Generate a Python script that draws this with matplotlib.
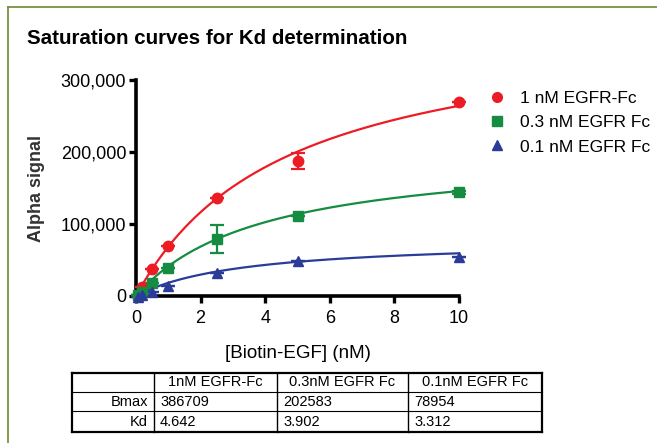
import numpy as np
import matplotlib
matplotlib.use('agg')
import matplotlib.pyplot as plt
from matplotlib.lines import Line2D
from matplotlib.ticker import FuncFormatter

plt.rcParams['font.family'] = ['Liberation Sans', 'DejaVu Sans']

# data
conc = [0.05, 0.2, 0.5, 1.0, 2.5, 5.0, 10.0]
sig_1nm   = [2000, 12000, 37000, 70000, 136000, 188000, 270000]
err_1nm   = [0, 0, 0, 0, 0, 11000, 0]
sig_03nm  = [1000, 6000, 18500, 38500, 79000, 111500, 144000]
err_03nm  = [0, 0, 0, 0, 19000, 0, 2500]
sig_01nm  = [-1000, 1500, 5000, 14000, 31500, 48500, 54000]
err_01nm  = [0, 0, 0, 0, 0, 0, 0]

labels = ['1 nM EGFR-Fc', '0.3 nM EGFR Fc', '0.1 nM EGFR Fc']

# fit parameters (table)
tab_cols = ['1nM EGFR-Fc', '0.3nM EGFR Fc', '0.1nM EGFR Fc']
tab_rows = ['Bmax', 'Kd']
bmax = [386709, 202583, 78954]
kd   = [4.642, 3.902, 3.312]

colors  = ['#ED1C24', '#158C42', '#2B3C98']
markers = ['o', 's', '^']

W, H = 657, 443
fig = plt.figure(figsize=(W/100, H/100), dpi=100, facecolor='w')
ax = fig.add_axes([136/W, 1-296/H, 323/W, 216/H])

xs = np.linspace(0, 10, 300)
series = [(sig_1nm, err_1nm), (sig_03nm, err_03nm), (sig_01nm, err_01nm)]
handles = []
for i, (y, e) in enumerate(series):
	ax.plot(xs, bmax[i]*xs/(kd[i]+xs), color=colors[i], lw=1.6, clip_on=False, zorder=2)
	ax.errorbar(conc, y, yerr=e, fmt=markers[i], color=colors[i], ms=7.5, capsize=5,
		elinewidth=1.6, capthick=1.6, clip_on=False, zorder=3)
	handles.append(Line2D([], [], ls='none', marker=markers[i], color=colors[i], ms=7))

ax.set_xlim(0, 10)
ax.set_ylim(0, 300000)
ax.set_xticks([0, 2, 4, 6, 8, 10])
ax.set_yticks([0, 100000, 200000, 300000])
ax.yaxis.set_major_formatter(FuncFormatter(lambda v, p: '{:,.0f}'.format(v)))
for s in ['top', 'right']:
	ax.spines[s].set_visible(False)
for s in ['left', 'bottom']:
	ax.spines[s].set_linewidth(2.6)
ax.tick_params(width=2.4, length=5, labelsize=13, pad=2, colors='k')
ax.tick_params(axis='x', pad=5)
ax.set_xlabel('[Biotin-EGF] (nM)', fontsize=13.5, labelpad=13)
ax.set_ylabel('Alpha signal', fontsize=13, fontweight='bold', color='#333333', labelpad=11)

fig.legend(handles, labels, loc='upper left', bbox_to_anchor=(490/W, 1-91/H), frameon=False,
	fontsize=12.5, handletextpad=0.9, labelspacing=0.52, handlelength=0.8,
	borderpad=0, borderaxespad=0)

fig.text(27/W, 1-38/H, 'Saturation curves for Kd determination', fontsize=14.8,
	fontweight='bold', va='center', ha='left')

# outer frame (left and top edges)
fcol = '#76923C'
fig.add_artist(Line2D([8/W, 8/W], [0, 1-7/H], transform=fig.transFigure, color=fcol, lw=1.3))
fig.add_artist(Line2D([8/W, 1], [1-7/H, 1-7/H], transform=fig.transFigure, color=fcol, lw=1.3))

# parameter table
cx = [72, 154, 277, 408, 542]
ry = [373, 392, 411, 432]
def hline(y, x0, x1, lw):
	fig.add_artist(Line2D([x0/W, x1/W], [1-y/H, 1-y/H], transform=fig.transFigure, color='k', lw=lw))
def vline(x, y0, y1, lw):
	fig.add_artist(Line2D([x/W, x/W], [1-y0/H, 1-y1/H], transform=fig.transFigure, color='k', lw=lw))
hline(ry[0], cx[0], cx[-1], 1.6)
hline(ry[-1], cx[0], cx[-1], 1.6)
hline(ry[1], cx[0], cx[-1], 0.8)
hline(ry[2], cx[0], cx[-1], 0.8)
vline(cx[0], ry[0], ry[-1], 1.6)
vline(cx[-1], ry[0], ry[-1], 1.6)
for x in cx[1:-1]:
	vline(x, ry[0], ry[-1], 1.0)

for j, t in enumerate(tab_cols):
	fig.text((cx[j+1]+cx[j+2])/2/W, 1-(ry[0]+ry[1])/2/H, t, fontsize=10.5, ha='center', va='center')
vals = [[str(b) for b in bmax], ['%.3f' % k for k in kd]]
for r, name in enumerate(tab_rows):
	yc = 1-(ry[r+1]+ry[r+2])/2/H
	fig.text((cx[1]-6)/W, yc, name, fontsize=10.5, ha='right', va='center')
	for j, v in enumerate(vals[r]):
		fig.text((cx[j+1]+6)/W, yc, v, fontsize=10.5, ha='left', va='center')

fig.savefig('out.png', dpi=100, facecolor='w')
plt.close('all')
